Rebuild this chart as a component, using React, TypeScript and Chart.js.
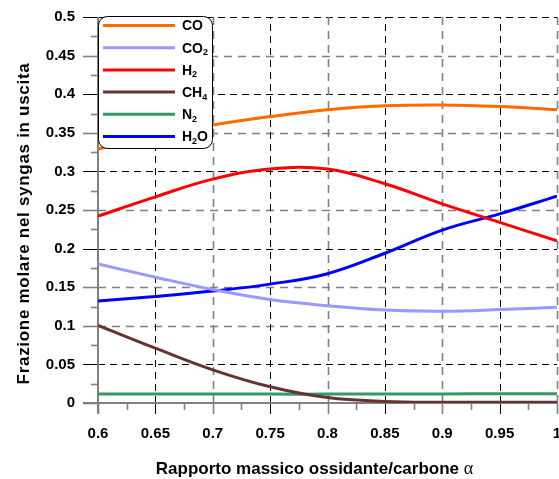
import React, { useEffect, useRef } from "react";
import { Chart, registerables } from "chart.js";

Chart.register(...registerables);

const alpha = [0.6, 0.65, 0.7, 0.75, 0.8, 0.85, 0.9, 0.95, 1.0];
const CO = [0.329, 0.346, 0.36, 0.371, 0.38, 0.385, 0.386, 0.384, 0.38];
const CO2 = [0.18, 0.163, 0.147, 0.134, 0.126, 0.1205, 0.119, 0.121, 0.124];
const H2 = [0.242, 0.267, 0.29, 0.303, 0.303, 0.284, 0.258, 0.234, 0.21];
const CH4 = [0.1005, 0.071, 0.043, 0.021, 0.007, 0.002, 0.001, 0.001, 0.001];
const N2 = [0.0115, 0.0115, 0.0115, 0.0115, 0.0115, 0.0117, 0.0118, 0.012, 0.012];
const H2O = [0.132, 0.138, 0.145, 0.154, 0.1675, 0.194, 0.224, 0.245, 0.268];

const seriesNames = ["CO", "CO2", "H2", "CH4", "N2", "H2O"];
const seriesValues = [CO, CO2, H2, CH4, N2, H2O];
const seriesColors = ["#ff6a00", "#9999ff", "#ff0000", "#663333", "#339966", "#0000ff"];

const xTicks = [0.6, 0.65, 0.7, 0.75, 0.8, 0.85, 0.9, 0.95, 1];
const yTicks = [0, 0.05, 0.1, 0.15, 0.2, 0.25, 0.3, 0.35, 0.4, 0.45, 0.5];
const xTitle = "Rapporto massico ossidante/carbone ";
const xTitleGreek = "α";
const yTitle = "Frazione molare nel syngas in uscita";

const GRAY = "#808080";
const FONT = "Liberation Sans, Arial, sans-serif";

function drawSubText(ctx: CanvasRenderingContext2D, text: string, x: number, y: number) {
  let cx = x;
  for (const ch of text) {
    if (/[0-9]/.test(ch)) {
      ctx.font = `bold 9px ${FONT}`;
      ctx.fillText(ch, cx, y + 4);
      cx += ctx.measureText(ch).width;
    } else {
      ctx.font = `bold 14px ${FONT}`;
      ctx.fillText(ch, cx, y);
      cx += ctx.measureText(ch).width;
    }
  }
}

const isBlackY = (v: number) => [0.05, 0.2, 0.3, 0.4, 0.5].some((b) => Math.abs(b - v) < 1e-6);

const gridPlugin = {
  id: "customGrid",
  beforeDatasetsDraw(chart: any) {
    const { ctx, chartArea } = chart;
    const xs = chart.scales.x;
    const ys = chart.scales.y;
    const { left, right, top, bottom } = chartArea;
    ctx.save();
    yTicks.forEach((v, i) => {
      if (i === 0) return;
      const y = Math.round(ys.getPixelForValue(v)) + 0.5;
      const black = isBlackY(v);
      ctx.beginPath();
      ctx.setLineDash(black ? [7, 5] : [8, 6]);
      ctx.strokeStyle = black ? "#000" : GRAY;
      ctx.lineWidth = black ? 1 : 1.6;
      ctx.moveTo(left, y);
      ctx.lineTo(right, y);
      ctx.stroke();
    });
    xTicks.forEach((v, i) => {
      if (i === 0) return;
      const x = Math.round(xs.getPixelForValue(v)) + 0.5;
      const black = i % 2 === 1;
      ctx.beginPath();
      ctx.setLineDash(black ? [7, 5] : [8, 6]);
      ctx.strokeStyle = black ? "#000" : GRAY;
      ctx.lineWidth = black ? 1 : 1.6;
      ctx.moveTo(x, bottom);
      ctx.lineTo(x, top);
      ctx.stroke();
    });
    ctx.setLineDash([]);
    yTicks.forEach((v, i) => {
      const y = Math.round(ys.getPixelForValue(v)) + 0.5;
      const black = isBlackY(v);
      ctx.beginPath();
      ctx.strokeStyle = black ? "#000" : GRAY;
      ctx.lineWidth = black ? 1 : 1.6;
      ctx.moveTo(left - 15, y);
      ctx.lineTo(left, y);
      ctx.stroke();
      if (i < yTicks.length - 1) {
        const ym = Math.round(ys.getPixelForValue(v + 0.025)) + 0.5;
        ctx.beginPath();
        ctx.strokeStyle = GRAY;
        ctx.lineWidth = 1.6;
        ctx.moveTo(left - 7, ym);
        ctx.lineTo(left, ym);
        ctx.stroke();
      }
    });
    xTicks.forEach((v, i) => {
      const x = Math.round(xs.getPixelForValue(v)) + 0.5;
      const black = i % 2 === 1;
      ctx.beginPath();
      ctx.strokeStyle = black ? "#000" : GRAY;
      ctx.lineWidth = black ? 1 : 1.6;
      ctx.moveTo(x, bottom);
      ctx.lineTo(x, bottom + 11);
      ctx.stroke();
      if (i < xTicks.length - 1) {
        const xm = Math.round(xs.getPixelForValue(v + 0.025)) + 0.5;
        ctx.beginPath();
        ctx.strokeStyle = GRAY;
        ctx.lineWidth = 1.6;
        ctx.moveTo(xm, bottom);
        ctx.lineTo(xm, bottom + 7);
        ctx.stroke();
      }
    });
    ctx.strokeStyle = GRAY;
    ctx.lineWidth = 2;
    ctx.beginPath();
    ctx.moveTo(left, top);
    ctx.lineTo(left, bottom + 11);
    ctx.stroke();
    ctx.beginPath();
    ctx.moveTo(left - 15, bottom);
    ctx.lineTo(right, bottom);
    ctx.stroke();
    ctx.restore();
  },
  afterDraw(chart: any) {
    const { ctx, chartArea } = chart;
    const { left, top } = chartArea;
    ctx.save();
    // legend
    const lx = left;
    const ly = top - 1;
    const lw = 114;
    const lh = 132;
    ctx.beginPath();
    (ctx as any).roundRect(lx + 0.5, ly + 0.5, lw, lh, 9);
    ctx.fillStyle = "#fff";
    ctx.fill();
    ctx.strokeStyle = "#000";
    ctx.lineWidth = 1;
    ctx.stroke();
    chart.data.datasets.forEach((ds: any, i: number) => {
      const y = ly + 9.5 + i * 22.2;
      ctx.beginPath();
      ctx.strokeStyle = ds.borderColor;
      ctx.lineWidth = 3;
      ctx.moveTo(lx + 5, y);
      ctx.lineTo(lx + 77, y);
      ctx.stroke();
      ctx.fillStyle = "#000";
      ctx.textBaseline = "middle";
      ctx.textAlign = "left";
      drawSubText(ctx, ds.label, lx + 84, y + 1);
    });
    // x title
    ctx.textBaseline = "alphabetic";
    ctx.textAlign = "left";
    const tFont = `bold 17px ${FONT}`;
    const gFont = `18px "Liberation Serif", "Times New Roman", serif`;
    ctx.font = tFont;
    const w1 = ctx.measureText(xTitle).width;
    ctx.font = gFont;
    const w2 = ctx.measureText(xTitleGreek).width;
    const cx = 314.5;
    const sx = cx - (w1 + w2) / 2;
    ctx.fillStyle = "#000";
    ctx.font = tFont;
    ctx.fillText(xTitle, sx, 474);
    ctx.font = gFont;
    ctx.fillText(xTitleGreek, sx + w1, 474);
    // y title
    ctx.save();
    ctx.translate(28.5, 223.5);
    ctx.rotate(-Math.PI / 2);
    ctx.textAlign = "center";
    ctx.font = `bold 17px ${FONT}`;
    (ctx as any).letterSpacing = "0.7px";
    ctx.fillText(yTitle, 0, 0);
    ctx.restore();
    ctx.restore();
  },
};

export default function App() {
  const ref = useRef<HTMLCanvasElement | null>(null);
  useEffect(() => {
    if (!ref.current) return;
    const chart = new Chart(ref.current, {
      type: "line",
      data: {
        datasets: seriesNames.map((name, i) => ({
          label: name,
          data: alpha.map((a, j) => ({ x: a, y: seriesValues[i][j] })),
          borderColor: seriesColors[i],
          backgroundColor: seriesColors[i],
          borderWidth: 3,
          pointRadius: 0,
          tension: 0.4,
          fill: false,
        })),
      },
      options: {
        responsive: false,
        animation: false,
        layout: { padding: { top: 17, right: 2, left: 0, bottom: 0 } },
        plugins: { legend: { display: false }, tooltip: { enabled: false }, title: { display: false } },
        scales: {
          x: {
            type: "linear",
            min: 0.6,
            max: 1,
            afterBuildTicks: (s: any) => {
              s.ticks = xTicks.map((v) => ({ value: v }));
            },
            afterFit: (s: any) => {
              s.height = 76;
              s.paddingLeft = 0;
              s.paddingRight = 0;
              s.paddingTop = 0;
              s.paddingBottom = 0;
            },
            grid: { display: false, drawTicks: false },
            border: { display: false },
            ticks: {
              padding: 22,
              color: "#000",
              font: { family: FONT, size: 15, weight: "bold" },
              callback: (v: any) => String(Number(v)),
              maxRotation: 0,
            },
          },
          y: {
            type: "linear",
            min: 0,
            max: 0.5,
            afterBuildTicks: (s: any) => {
              s.ticks = yTicks.map((v) => ({ value: v }));
            },
            afterFit: (s: any) => {
              s.width = 98;
              s.paddingTop = 0;
              s.paddingBottom = 0;
              s.paddingLeft = 0;
              s.paddingRight = 0;
            },
            grid: { display: false, drawTicks: false },
            border: { display: false },
            ticks: {
              padding: 23,
              color: "#000",
              font: { family: FONT, size: 15, weight: "bold" },
              callback: (v: any) => String(Number(v)),
            },
          },
        },
      },
      plugins: [gridPlugin],
    });
    return () => chart.destroy();
  }, []);
  return (
    <div style={{ position: "absolute", left: 0, top: 0, width: 559, height: 479, background: "#fff" }}>
      <canvas ref={ref} width={559} height={479} style={{ display: "block" }} />
    </div>
  );
}
